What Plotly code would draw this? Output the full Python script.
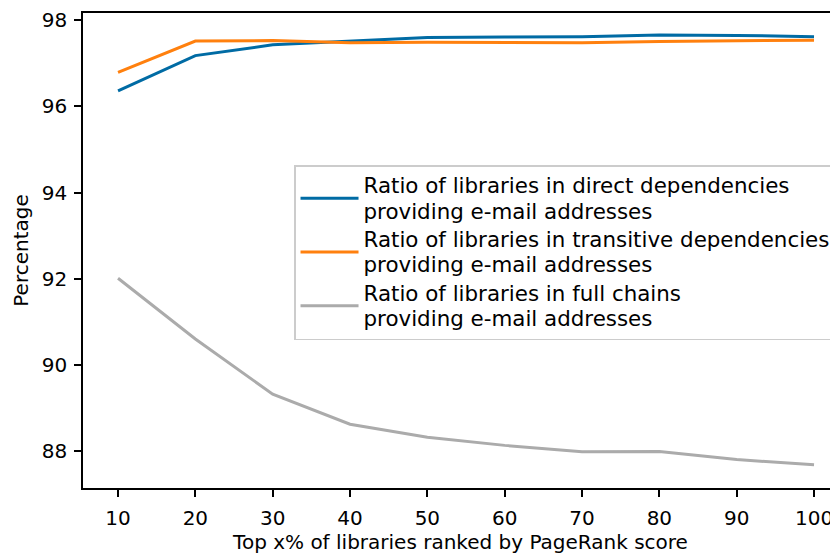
import plotly.graph_objects as go

x_vals = [10, 20, 30, 40, 50, 60, 70, 80, 90, 100]
direct = [96.36, 97.18, 97.43, 97.51, 97.60, 97.61, 97.62, 97.66, 97.65, 97.62]
transitive = [96.79, 97.52, 97.53, 97.48, 97.49, 97.49, 97.48, 97.51, 97.52, 97.54]
full_chain = [92.01, 90.60, 89.32, 88.62, 88.32, 88.13, 87.98, 87.99, 87.80, 87.68]

names = [
    "Ratio of libraries in direct dependencies<br>providing e-mail addresses",
    "Ratio of libraries in transitive dependencies<br>providing e-mail addresses",
    "Ratio of libraries in full chains<br>providing e-mail addresses",
]
colors = ["#006BA4", "#FF800E", "#ABABAB"]

FONT = "DejaVu Sans"


def big(t):
    return "<br>".join('<span style="font-size:21.4px">%s</span>' % p for p in t.split("<br>"))


fig = go.Figure()
for ys, nm, c in zip([direct, transitive, full_chain], names, colors):
    fig.add_trace(go.Scatter(x=x_vals, y=ys, mode="lines", name=big(nm),
                             line=dict(color=c, width=3)))

# page body has an 8px margin, so the figure is 830x546
fig.update_layout(
    width=830, height=546,
    margin=dict(l=75, r=0, t=5, b=66),
    paper_bgcolor="white", plot_bgcolor="white",
    font=dict(family=FONT, size=20, color="black"),
    legend=dict(x=0.2795, y=0.68, xanchor="left", yanchor="top",
                bgcolor="rgba(255,255,255,0.8)", bordercolor="#cccccc", borderwidth=1.5,
                font=dict(family=FONT, size=19.5), valign="middle", tracegroupgap=0,
                itemwidth=58),
    showlegend=True,
)
fig.update_xaxes(
    range=[5.47, 103.1], tickvals=x_vals, ticks="outside", ticklen=7, tickwidth=1.6,
    tickcolor="black", showline=True, linecolor="black", linewidth=1.6, mirror=True,
    showgrid=False, zeroline=False, automargin=False, ticklabelstandoff=4,
    title=dict(text="Top x% of libraries ranked by PageRank score", standoff=5,
               font=dict(size=20)),
    tickfont=dict(size=20),
)
fig.update_yaxes(
    range=[87.14, 98.17], tickvals=[88, 90, 92, 94, 96, 98], ticks="outside", ticklen=7,
    tickwidth=1.6, tickcolor="black", showline=True, linecolor="black", linewidth=1.6,
    mirror=False, showgrid=False, zeroline=False, automargin=False, ticklabelstandoff=3,
    title=dict(text="Percentage", standoff=8, font=dict(size=20)),
    tickfont=dict(size=20),
)

fig.write_html("out.html")
